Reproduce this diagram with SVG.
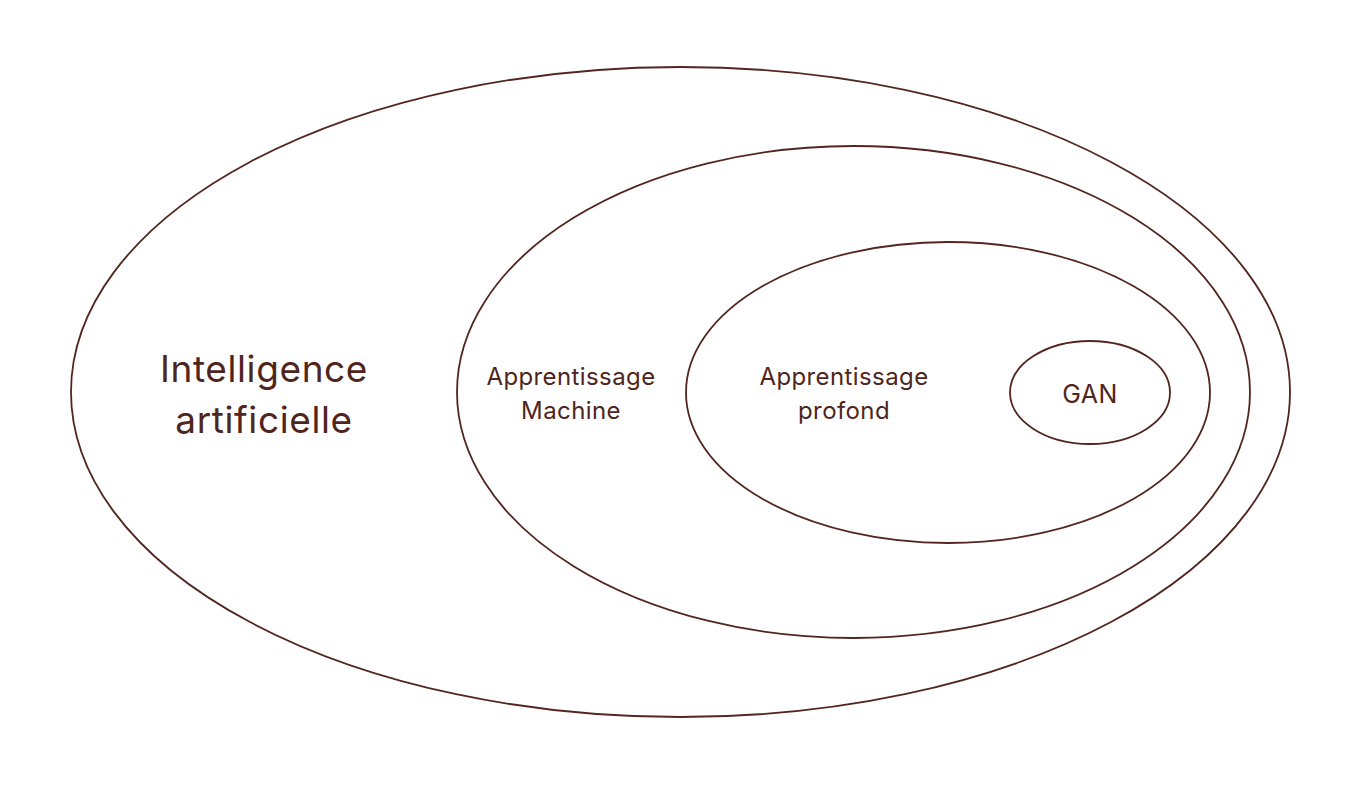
<svg xmlns="http://www.w3.org/2000/svg" width="1361" height="786" viewBox="0 0 1361 786">
<style>
.e{fill:none;stroke:#52261f;stroke-width:1.8}
.t{fill:#4f2520;font-family:Inter,"Noto Sans",sans-serif;text-anchor:middle}
.big{font-size:37px;letter-spacing:0.6px}
.sm{font-size:24px;letter-spacing:0.4px}
.g{font-size:25px;letter-spacing:0.5px}
</style>
<rect width="1361" height="786" fill="#ffffff"/>
<g id="ai">
<ellipse class="e" cx="680.5" cy="392" rx="609.5" ry="325"/>
<text class="t big" x="264" y="382">Intelligence</text>
<text class="t big" x="264" y="433">artificielle</text>
</g>
<g id="ml">
<ellipse class="e" cx="853.5" cy="392" rx="396.5" ry="246"/>
<text class="t sm" x="571" y="385">Apprentissage</text>
<text class="t sm" x="571" y="419">Machine</text>
</g>
<g id="dl">
<ellipse class="e" cx="948" cy="392.5" rx="262" ry="150.5"/>
<text class="t sm" x="844" y="385">Apprentissage</text>
<text class="t sm" x="844" y="419">profond</text>
</g>
<g id="gan">
<ellipse class="e" cx="1090" cy="392.5" rx="80" ry="51.5"/>
<text class="t g" x="1090" y="403">GAN</text>
</g>
<g id="connectors"></g>
</svg>
